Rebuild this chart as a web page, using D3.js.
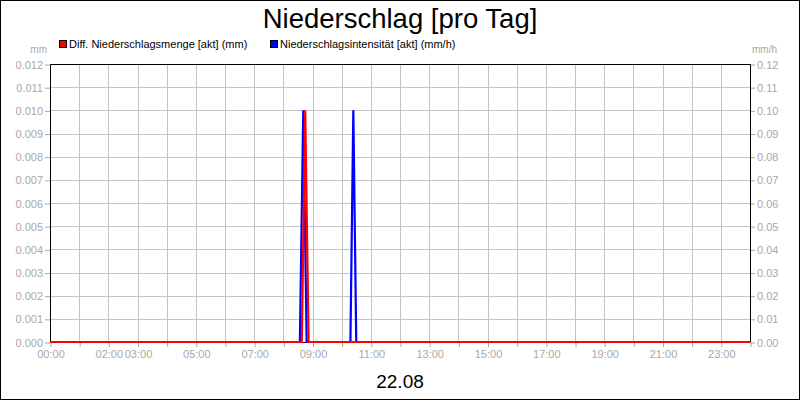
<!DOCTYPE html>
<html>
<head>
<meta charset="utf-8">
<script src="https://cdn.jsdelivr.net/npm/d3@7"></script>
<style>
  body { margin: 0; background: #fff; }
  svg { display: block; font-family: "Liberation Sans", Arial, sans-serif; }
</style>
</head>
<body>
<svg id="chart" width="800" height="400"></svg>
<script>
// data
const title = "Niederschlag [pro Tag]";
const dateLabel = "22.08";
const seriesNames = ["Diff. Niederschlagsmenge [akt] (mm)", "Niederschlagsintensität [akt] (mm/h)"];
const leftTicks = [0, 0.001, 0.002, 0.003, 0.004, 0.005, 0.006, 0.007, 0.008, 0.009, 0.010, 0.011, 0.012];
const rightTicks = [0, 0.01, 0.02, 0.03, 0.04, 0.05, 0.06, 0.07, 0.08, 0.09, 0.10, 0.11, 0.12];
const xTickLabels = ["00:00", "02:00", "03:00", "05:00", "07:00", "09:00", "11:00", "13:00", "15:00", "17:00", "19:00", "21:00", "23:00"];
const mengeTimes = ["00:00", "08:38", "08:45", "08:52", "24:00"];
const mengeValues = [0, 0, 0.010, 0, 0];
const intensTimes = ["00:00", "08:34", "08:41", "08:48", "10:18", "10:24", "10:30", "24:00"];
const intensValues = [0, 0, 0.10, 0, 0, 0.10, 0, 0];

const toHours = s => { const [h, m] = s.split(":").map(Number); return h + m / 60; };

const svg = d3.select("#chart");
const W = 800, H = 400;
const m = { left: 50, right: 50, top: 64, bottom: 58 };
const grey = "#a8a8a8";

svg.append("rect").attr("x", 0.5).attr("y", 0.5).attr("width", W - 1).attr("height", H - 1)
  .attr("fill", "#fff").attr("stroke", "#000");

const x = d3.scaleLinear().domain([0, 24]).range([m.left, W - m.right]);
const yL = d3.scaleLinear().domain([0, 0.012]).range([H - m.bottom, m.top]);
const yR = d3.scaleLinear().domain([0, 0.12]).range([H - m.bottom, m.top]);

// grid
const grid = svg.append("g").attr("stroke", "#c4c4c4").attr("stroke-width", 1);
grid.selectAll("line.h").data(leftTicks).enter().append("line")
  .attr("x1", m.left).attr("x2", W - m.right)
  .attr("y1", d => Math.round(yL(d)) + 0.5).attr("y2", d => Math.round(yL(d)) + 0.5);
grid.selectAll("line.v").data(d3.range(0, 25)).enter().append("line")
  .attr("y1", m.top).attr("y2", H - m.bottom)
  .attr("x1", d => Math.round(x(d)) + 0.5).attr("x2", d => Math.round(x(d)) + 0.5);

// axes
function styleAxis(g) {
  g.select(".domain").remove();
  g.selectAll(".tick line").attr("stroke", grey);
  g.selectAll(".tick text").attr("fill", grey).style("font-size", "11px");
}
svg.append("g").attr("transform", `translate(${m.left},0.5)`)
  .call(d3.axisLeft(yL).tickValues(leftTicks).tickFormat(d3.format(".3f")).tickSize(5).tickPadding(2))
  .call(styleAxis);
svg.append("g").attr("transform", `translate(${W - m.right},0.5)`)
  .call(d3.axisRight(yR).tickValues(rightTicks).tickFormat(d3.format(".2f")).tickSize(5).tickPadding(2))
  .call(styleAxis);
svg.append("g").attr("transform", `translate(0.5,${H - m.bottom})`)
  .call(d3.axisBottom(x).tickValues(d3.range(0, 25)).tickSize(5).tickPadding(3)
    .tickFormat(d => { const s = String(d).padStart(2, "0") + ":00"; return xTickLabels.includes(s) ? s : ""; }))
  .call(styleAxis);

// frame
svg.append("path")
  .attr("d", `M${m.left + 0.5},${H - m.bottom}V${m.top + 0.5}H${W - m.right + 0.5}V${H - m.bottom}`)
  .attr("fill", "none").attr("stroke", "#000");
svg.append("line").attr("x1", m.left).attr("x2", W - m.right)
  .attr("y1", H - m.bottom + 0.5).attr("y2", H - m.bottom + 0.5).attr("stroke", "#000");

// series
const intens = intensTimes.map((t, i) => [toHours(t), intensValues[i]]);
const menge = mengeTimes.map((t, i) => [toHours(t), mengeValues[i]]);
svg.append("path").datum(intens)
  .attr("d", d3.line().x(d => x(d[0])).y(d => yR(d[1])))
  .attr("fill", "none").attr("stroke", "#0000ff").attr("stroke-width", 2.2);
svg.append("path").datum(menge)
  .attr("d", d3.line().x(d => x(d[0])).y(d => yL(d[1])))
  .attr("fill", "none").attr("stroke", "#ff0000").attr("stroke-width", 2.2);

// units
svg.append("text").attr("x", 47).attr("y", 53).attr("text-anchor", "end")
  .attr("fill", grey).style("font-size", "10px").text("mm");
svg.append("text").attr("x", 752).attr("y", 53)
  .attr("fill", grey).style("font-size", "10px").text("mm/h");

// legend
const colors = ["#ff0000", "#0000ff"];
const legendX = [59, 270];
seriesNames.forEach((n, i) => {
  svg.append("rect").attr("x", legendX[i] + 0.5).attr("y", 40.5).attr("width", 7).attr("height", 7)
    .attr("fill", colors[i]).attr("stroke", "#000");
  svg.append("text").attr("x", legendX[i] + 10).attr("y", 48)
    .style("font-size", "11px").attr("fill", "#000").text(n);
});

// title & date
svg.append("text").attr("x", 400).attr("y", 28).attr("text-anchor", "middle")
  .style("font-size", "27.5px").text(title);
svg.append("text").attr("x", 400).attr("y", 388).attr("text-anchor", "middle")
  .style("font-size", "19px").text(dateLabel);
</script>
</body>
</html>
